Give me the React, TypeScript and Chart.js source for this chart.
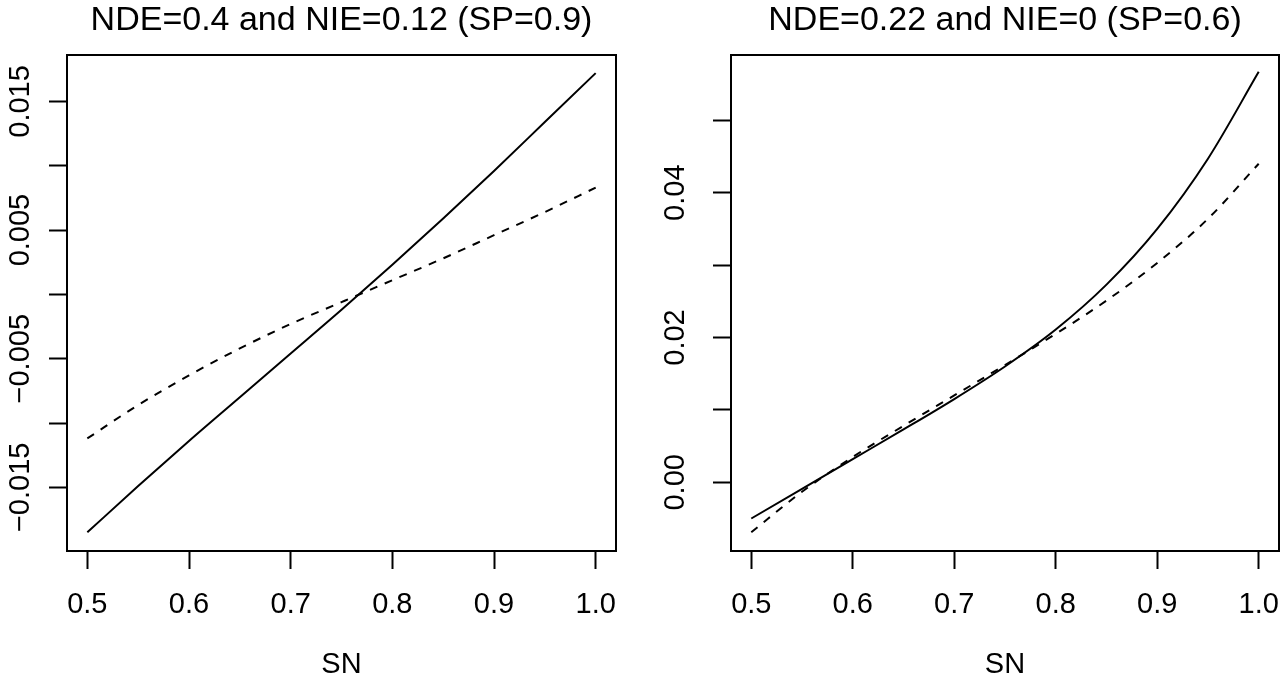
import React, { useEffect, useRef } from "react";
import { Chart, registerables } from "chart.js";

Chart.register(...registerables);

const FONT = "'Liberation Sans', Arial, Helvetica, sans-serif";

// Sensitivity (SN) grid
const snValues = [0.5, 0.55, 0.6, 0.65, 0.7, 0.75, 0.8, 0.85, 0.9, 0.95, 1.0];

// Left panel: NDE=0.4 and NIE=0.12 (SP=0.9)
const leftSolid = [-0.0185, -0.0149, -0.0114, -0.008, -0.0046, -0.0012, 0.0023, 0.0059, 0.0096, 0.0134, 0.0172];
const leftDashed = [-0.0112, -0.0086, -0.0063, -0.0042, -0.0023, -0.0006, 0.0011, 0.0028, 0.0046, 0.0064, 0.0083];

// Right panel: NDE=0.22 and NIE=0 (SP=0.6)
const rightSolid = [-0.005, -0.0009, 0.0032, 0.0073, 0.0115, 0.016, 0.0211, 0.0273, 0.035, 0.0447, 0.0567];
const rightDashed = [-0.0069, -0.0013, 0.0035, 0.0078, 0.012, 0.0162, 0.0205, 0.0251, 0.0303, 0.0364, 0.044];

// Axes
const xRange = [0.48, 1.02];
const xTicks = [0.5, 0.6, 0.7, 0.8, 0.9, 1.0];
const xTickLabels = ["0.5", "0.6", "0.7", "0.8", "0.9", "1.0"];

const leftYRange = [-0.01995, 0.01861];
const leftYTicks = [-0.015, -0.01, -0.005, 0, 0.005, 0.01, 0.015];
const leftYLabels = ["\u22120.015", "", "\u22120.005", "", "0.005", "", "0.015"];

const rightYRange = [-0.00949, 0.05902];
const rightYTicks = [0, 0.01, 0.02, 0.03, 0.04, 0.05];
const rightYLabels = ["0.00", "", "0.02", "", "0.04", ""];

const leftTitle = "NDE=0.4 and NIE=0.12 (SP=0.9)";
const rightTitle = "NDE=0.22 and NIE=0 (SP=0.6)";
const xTitle = "SN";

const boxPlugin = {
  id: "rbox",
  afterDraw(chart: any) {
    const { ctx, chartArea } = chart;
    ctx.save();
    ctx.strokeStyle = "#000";
    ctx.lineWidth = 2;
    ctx.strokeRect(chartArea.left, chartArea.top, chartArea.right - chartArea.left, chartArea.bottom - chartArea.top);
    ctx.restore();
  },
};

function makeConfig(p: {
  title: string;
  solid: number[];
  dashed: number[];
  yRange: number[];
  yTicks: number[];
  yLabels: string[];
  yAxisWidth: number;
  yPad: number;
  rightPad: number;
}) {
  const toPts = (arr: number[]) => snValues.map((x, i) => ({ x, y: arr[i] }));
  return {
    type: "line" as const,
    data: {
      datasets: [
        {
          data: toPts(p.solid),
          borderColor: "#000",
          borderWidth: 2,
          pointRadius: 0,
          fill: false,
          cubicInterpolationMode: "monotone",
        },
        {
          data: toPts(p.dashed),
          borderColor: "#000",
          borderWidth: 2,
          borderDash: [8, 8],
          pointRadius: 0,
          fill: false,
          cubicInterpolationMode: "monotone",
        },
      ],
    },
    options: {
      animation: false,
      responsive: false,
      devicePixelRatio: 1,
      events: [],
      layout: { padding: { left: 0, right: p.rightPad, top: 0, bottom: 0 } },
      plugins: {
        legend: { display: false },
        tooltip: { enabled: false },
        title: {
          display: true,
          text: p.title,
          color: "#000",
          fullSize: false,
          font: { size: 34, family: FONT, weight: "normal" },
          padding: { top: 0, bottom: 14.2 },
        },
      },
      scales: {
        x: {
          type: "linear",
          position: "bottom",
          min: xRange[0],
          max: xRange[1],
          afterBuildTicks: (scale: any) => {
            scale.ticks = xTicks.map((v) => ({ value: v }));
          },
          afterFit: (scale: any) => {
            scale.height = 131;
            scale.paddingLeft = 0;
            scale.paddingRight = 0;
          },
          grid: {
            display: true,
            drawOnChartArea: false,
            drawTicks: true,
            tickLength: 18,
            tickWidth: 2,
            tickColor: "#000",
          },
          border: { display: false },
          ticks: {
            autoSkip: false,
            maxRotation: 0,
            minRotation: 0,
            color: "#000",
            padding: 18.6,
            font: { size: 29, family: FONT },
            callback: (_v: any, i: number) => xTickLabels[i],
          },
          title: {
            display: true,
            text: xTitle,
            color: "#000",
            font: { size: 29, family: FONT },
            padding: { top: 0, bottom: 0 },
          },
        },
        y: {
          type: "linear",
          position: "left",
          min: p.yRange[0],
          max: p.yRange[1],
          afterBuildTicks: (scale: any) => {
            scale.ticks = p.yTicks.map((v) => ({ value: v }));
          },
          afterFit: (scale: any) => {
            scale.width = p.yAxisWidth;
            scale.paddingTop = 0;
            scale.paddingBottom = 0;
          },
          grid: {
            display: true,
            drawOnChartArea: false,
            drawTicks: true,
            tickLength: 18,
            tickWidth: 2,
            tickColor: "#000",
          },
          border: { display: false },
          ticks: {
            autoSkip: false,
            minRotation: 90,
            maxRotation: 90,
            crossAlign: "center",
            color: "#000",
            padding: p.yPad,
            font: { size: 29, family: FONT },
            callback: (_v: any, i: number) => p.yLabels[i],
          },
        },
      },
    },
    plugins: [boxPlugin],
  };
}

export default function App() {
  const leftRef = useRef<HTMLCanvasElement | null>(null);
  const rightRef = useRef<HTMLCanvasElement | null>(null);

  useEffect(() => {
    const charts: Chart[] = [];
    if (leftRef.current) {
      charts.push(
        new Chart(
          leftRef.current,
          makeConfig({
            title: leftTitle,
            solid: leftSolid,
            dashed: leftDashed,
            yRange: leftYRange,
            yTicks: leftYTicks,
            yLabels: leftYLabels,
            yAxisWidth: 67,
            yPad: -16.3,
            rightPad: 24,
          }) as any
        )
      );
    }
    if (rightRef.current) {
      charts.push(
        new Chart(
          rightRef.current,
          makeConfig({
            title: rightTitle,
            solid: rightSolid,
            dashed: rightDashed,
            yRange: rightYRange,
            yTicks: rightYTicks,
            yLabels: rightYLabels,
            yAxisWidth: 91,
            yPad: 8.3,
            rightPad: 1,
          }) as any
        )
      );
    }
    return () => {
      charts.forEach((c) => c.destroy());
    };
  }, []);

  return (
    <div style={{ position: "absolute", left: 0, top: 0, width: 1280, height: 682, background: "#fff" }}>
      <canvas ref={leftRef} width={640} height={682} style={{ position: "absolute", left: 0, top: 0, width: 640, height: 682 }} />
      <canvas ref={rightRef} width={640} height={682} style={{ position: "absolute", left: 640, top: 0, width: 640, height: 682 }} />
    </div>
  );
}
